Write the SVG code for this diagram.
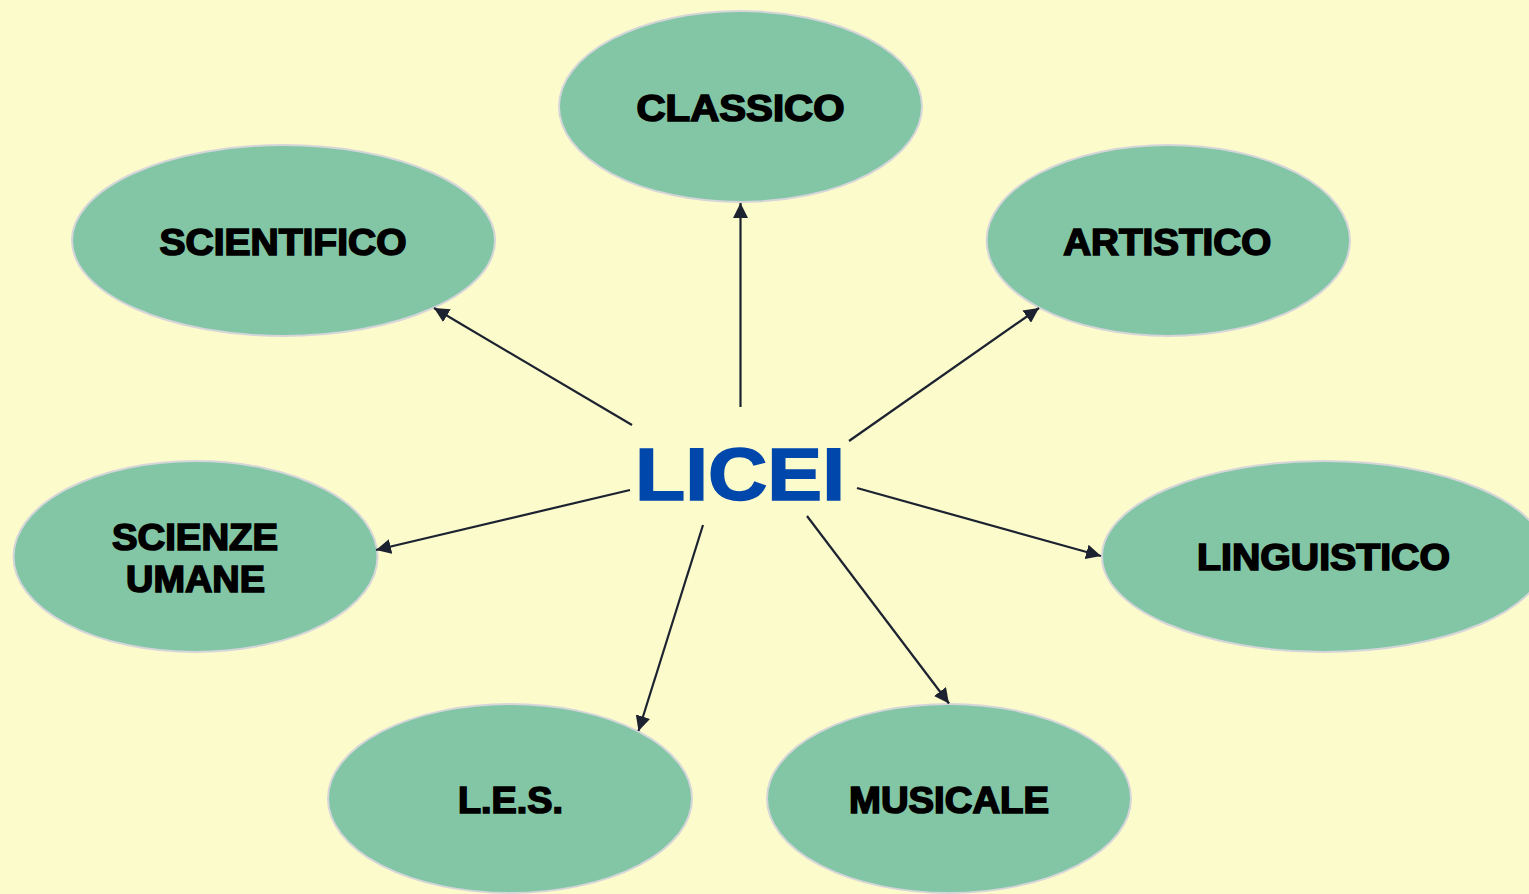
<svg xmlns="http://www.w3.org/2000/svg" width="1529" height="894" viewBox="0 0 1529 894">
<defs>
<style>
.node ellipse{fill:#82C6A6;stroke:#D6D6DA;stroke-width:2}
.lbl{font-family:"Liberation Sans",Arial,sans-serif;font-weight:bold;font-size:36px;fill:#000;stroke:#000;stroke-width:1.6;text-anchor:middle}
.conn line{stroke:#1C2230;stroke-width:2.2;marker-end:url(#ah)}
.center{font-family:"Liberation Sans",Arial,sans-serif;font-weight:bold;font-size:75px;fill:#0047AB;stroke:#0047AB;stroke-width:1.6;text-anchor:middle}
</style>
<marker id="ah" viewBox="0 0 10 10" refX="10" refY="5" markerUnits="userSpaceOnUse" markerWidth="15" markerHeight="15" orient="auto">
<path d="M0,0 L10,5 L0,10 z" fill="#1C2230"/>
</marker>
</defs>
<rect x="0" y="0" width="1529" height="894" fill="#FBFBCC"/>
<g id="n-classico" class="node">
<ellipse cx="740.5" cy="106.5" rx="181.5" ry="95.5"/>
<text class="lbl" x="740.5" y="121" textLength="208" lengthAdjust="spacingAndGlyphs">CLASSICO</text>
</g>
<g id="n-scientifico" class="node">
<ellipse cx="283.5" cy="240.5" rx="211.5" ry="95.5"/>
<text class="lbl" x="283" y="255" textLength="247" lengthAdjust="spacingAndGlyphs">SCIENTIFICO</text>
</g>
<g id="n-artistico" class="node">
<ellipse cx="1168.3" cy="240.5" rx="181.7" ry="95.5"/>
<text class="lbl" x="1167.2" y="254.5" textLength="208" lengthAdjust="spacingAndGlyphs">ARTISTICO</text>
</g>
<g id="n-scienze-umane" class="node">
<ellipse cx="195.5" cy="556.5" rx="182" ry="95.5"/>
<text class="lbl" x="195" y="550" textLength="166" lengthAdjust="spacingAndGlyphs">SCIENZE</text>
<text class="lbl" x="195.5" y="592" textLength="139" lengthAdjust="spacingAndGlyphs">UMANE</text>
</g>
<g id="n-linguistico" class="node">
<ellipse cx="1324" cy="556.5" rx="222" ry="95.5"/>
<text class="lbl" x="1323.5" y="570" textLength="253" lengthAdjust="spacingAndGlyphs">LINGUISTICO</text>
</g>
<g id="n-les" class="node">
<ellipse cx="510" cy="798.5" rx="182" ry="94.5"/>
<text class="lbl" x="510.5" y="813" textLength="105" lengthAdjust="spacingAndGlyphs">L.E.S.</text>
</g>
<g id="n-musicale" class="node">
<ellipse cx="949" cy="798.5" rx="182" ry="94.5"/>
<text class="lbl" x="949" y="813" textLength="200" lengthAdjust="spacingAndGlyphs">MUSICALE</text>
</g>
<g id="n-licei">
<text class="center" x="740" y="500" textLength="210" lengthAdjust="spacingAndGlyphs">LICEI</text>
</g>
<g id="connectors" class="conn">
<line x1="740.5" y1="407" x2="740.5" y2="203"/>
<line x1="632" y1="425" x2="434" y2="308"/>
<line x1="849" y1="441" x2="1039" y2="308"/>
<line x1="630" y1="490" x2="376" y2="550"/>
<line x1="857" y1="488" x2="1101" y2="556"/>
<line x1="703" y1="525" x2="638.5" y2="731"/>
<line x1="807" y1="516" x2="949" y2="703.5"/>
</g>
</svg>
